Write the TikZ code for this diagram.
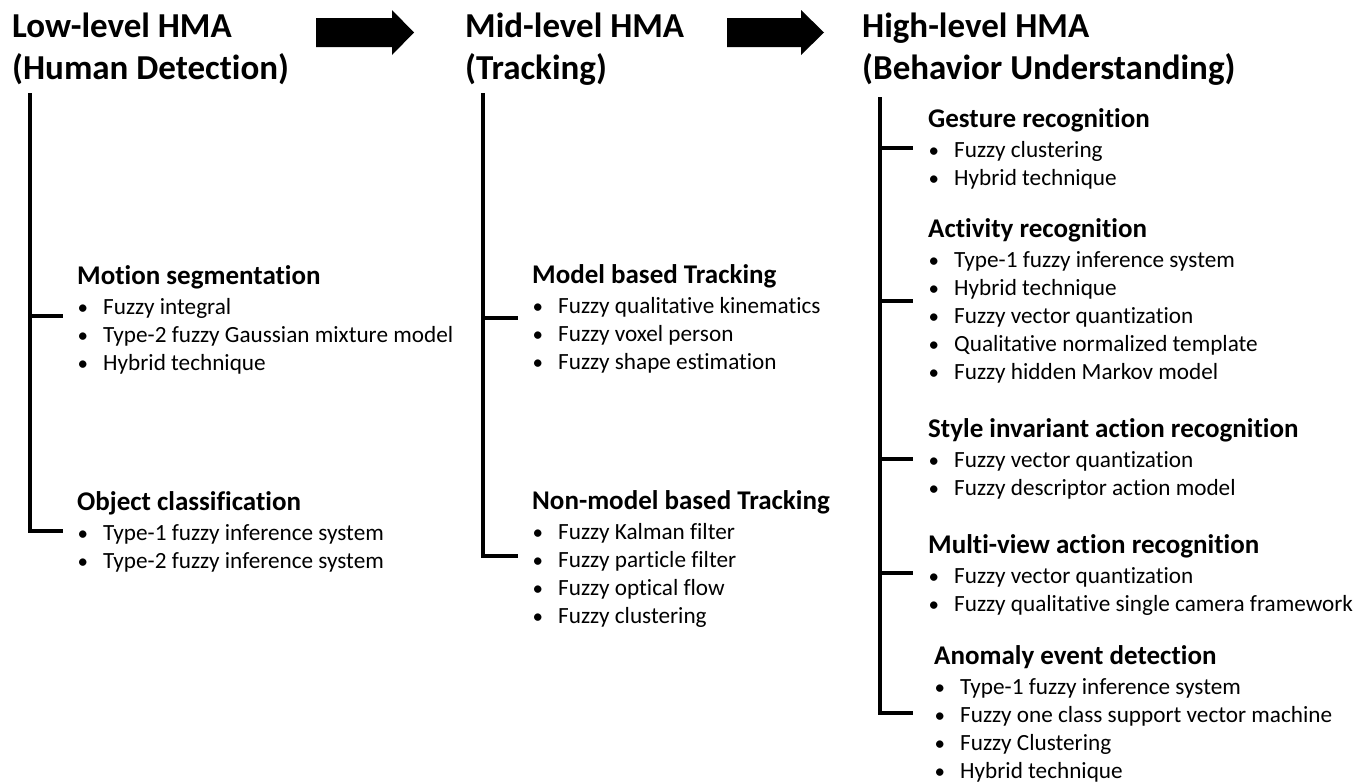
\documentclass[tikz,border=0pt]{standalone}
\usepackage{fontspec}
\setmainfont{Carlito}[Ligatures={CommonOff,ContextualOff}]
\begin{document}
\begin{tikzpicture}[x=1pt,y=-1pt,
  title/.style={anchor=base west, inner sep=0pt, font=\fontsize{35}{42}\selectfont\bfseries},
  head/.style={anchor=base west, inner sep=0pt, font=\fontsize{27}{32}\selectfont\bfseries},
  item/.style={anchor=base west, inner sep=0pt, font=\fontsize{23.2}{28}\selectfont},
  bul/.style={anchor=base west, inner sep=0pt, font=\fontsize{21}{28}\selectfont},
  spine/.style={line width=4.5pt, line cap=butt, line join=miter},
  blockarrow/.style={fill=black}]
\useasboundingbox (0,0) rectangle (1369,782);

\newcommand\hmagroup[5]{%
  \node[head] (#1) at (#2,#3) {#4};
  \foreach \t [count=\i] in {#5} {
    \pgfmathsetmacro\yy{#3+2+28*\i}
    \node[bul] (#1-b\i) at (#2+0.5,\yy) {•};
    \node[item] (#1-\i) at (#2+26,\yy) {\t};
  }}

% titles
\node[title] (t1a) at (12,37) {Low-level HMA};
\node[title] (t1b) at (12,79) {(Human Detection)};
\node[title] (t2a) at (465,37) {Mid-level HMA};
\node[title] (t2b) at (465,79) {(Tracking)};
\node[title] (t3a) at (862,37) {High-level HMA};
\node[title] (t3b) at (862,79) {(Behavior Understanding)};

% block arrows
\fill[blockarrow] (316,18) -- (392,18) -- (392,10) -- (414,32.5) -- (392,55) -- (392,47) -- (316,47) -- cycle;
\fill[blockarrow] (727,18) -- (801,18) -- (801,10) -- (824,32.5) -- (801,55) -- (801,47) -- (727,47) -- cycle;

% column 1
\coordinate (s1top) at (30,93);
\coordinate (s1m) at (30,316);
\coordinate (s1b) at (30,531);
\coordinate (e1m) at (63,316);
\coordinate (e1b) at (63,531);
\draw[spine] (s1top) -- (s1b) -- (e1b);
\draw[spine] (s1m) -- (e1m);
\hmagroup{ms}{77}{284}{Motion segmentation}{Fuzzy integral,Type-2 fuzzy Gaussian mixture model,Hybrid technique}
\hmagroup{oc}{77}{510}{Object classification}{Type-1 fuzzy inference system,Type-2 fuzzy inference system}

% column 2
\coordinate (s2top) at (483,93);
\coordinate (s2m) at (483,318);
\coordinate (s2b) at (483,556);
\coordinate (e2m) at (518,318);
\coordinate (e2b) at (518,556);
\draw[spine] (s2top) -- (s2b) -- (e2b);
\draw[spine] (s2m) -- (e2m);
\hmagroup{mbt}{532}{283}{Model based Tracking}{Fuzzy qualitative kinematics,Fuzzy voxel person,Fuzzy shape estimation}
\hmagroup{nmbt}{532}{509}{Non-model based Tracking}{Fuzzy Kalman filter,Fuzzy particle filter,Fuzzy optical flow,Fuzzy clustering}

% column 3
\coordinate (s3top) at (880,97);
\coordinate (s3a) at (880,148);
\coordinate (s3b) at (880,301);
\coordinate (s3c) at (880,459);
\coordinate (s3d) at (880,573);
\coordinate (s3e) at (880,713);
\coordinate (e3a) at (913,148);
\coordinate (e3b) at (913,301);
\coordinate (e3c) at (913,459);
\coordinate (e3d) at (913,573);
\coordinate (e3e) at (913,713);
\draw[spine] (s3top) -- (s3e) -- (e3e);
\draw[spine] (s3a) -- (e3a);
\draw[spine] (s3b) -- (e3b);
\draw[spine] (s3c) -- (e3c);
\draw[spine] (s3d) -- (e3d);
\hmagroup{gr}{928}{127}{Gesture recognition}{Fuzzy clustering,Hybrid technique}
\hmagroup{ar}{928}{237}{Activity recognition}{Type-1 fuzzy inference system,Hybrid technique,Fuzzy vector quantization,Qualitative normalized template,Fuzzy hidden Markov model}
\hmagroup{sia}{928}{437}{Style invariant action recognition}{Fuzzy vector quantization,Fuzzy descriptor action model}
\hmagroup{mv}{928}{553}{Multi-view action recognition}{Fuzzy vector quantization,Fuzzy qualitative single camera framework}
\hmagroup{aed}{934}{664}{Anomaly event detection}{Type-1 fuzzy inference system,Fuzzy one class support vector machine,Fuzzy Clustering,Hybrid technique}
\end{tikzpicture}
\end{document}
